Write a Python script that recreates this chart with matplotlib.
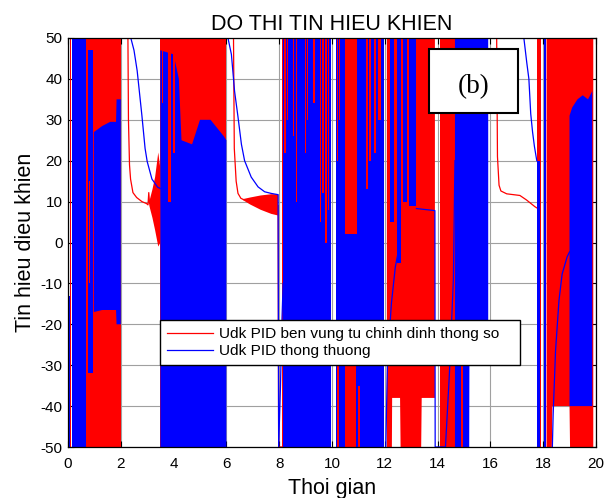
import numpy as np
import matplotlib
matplotlib.use("Agg")
import matplotlib.pyplot as plt
from matplotlib.patches import Rectangle

plt.rcParams['font.family'] = ['Liberation Sans', 'DejaVu Sans']
plt.rcParams['axes.unicode_minus'] = False

nan = np.nan

# ---- red signal (Udk PID ben vung tu chinh dinh thong so) ----
# dense oscillation bands: time, lower envelope, upper envelope (nan = break)
red_band_t = [0.09, 0.12, nan,
              0.67, 2.0, nan,
              3.08, 3.2, 3.3, 3.42, 3.5, nan,
              3.5, 6.0, nan,
              6.62, 6.9, 7.3, 7.7, 7.96, nan,
              8.12, 9.95, nan,
              10.15, 11.97, nan,
              12.08, 12.27, 12.28, 12.58, 12.6, 13.38, 13.4, 13.9, nan,
              14.1, 14.7, nan,
              17.77, 17.93, nan,
              18.13, 18.33, 18.35, 19.0, 19.02, 19.9]
red_band_lo = [-50, -50, nan,
               -50, -50, nan,
               9, 6, 3, -1, 0, nan,
               -50, -50, nan,
               10.4, 9.3, 8.0, 7.0, 6.6, nan,
               -50, -50, nan,
               -50, -50, nan,
               -50, -50, -38, -38, -50, -50, -38, -38, nan,
               -50, -50, nan,
               -50, -50, nan,
               -50, -50, -40, -40, -50, -50]
red_band_hi = [50, 50, nan,
               50, 50, nan,
               10, 13, 16, 22, 18, nan,
               50, 50, nan,
               10.6, 11.0, 11.5, 11.8, 11.8, nan,
               50, 50, nan,
               50, 50, nan,
               50, 50, 50, 50, 50, 50, 50, 50, nan,
               50, 50, nan,
               50, 50, nan,
               50, 50, 50, 50, 50, 50]

# smooth parts of the red signal
red_line_t = [2.0, 2.27, 2.29, 2.33, 2.37, 2.46, 2.6, 2.8, 2.98, 3.03, 3.06, 3.09, nan,
              6.0, 6.27, 6.3, 6.37, 6.44, 6.55, 6.65, nan,
              7.96, 7.98, 8.12, nan,
              15.9, 16.24, 16.27, 16.33, 16.4, 16.62, 17.12, 17.37, 17.69, 17.8]
red_line_v = [50, 50, 30, 19, 15.5, 12.2, 11, 10, 9.5, 9.2, 12.2, 9.5, nan,
              50, 50, 23, 15, 12, 10.8, 10.5, nan,
              9, -50, -50, nan,
              50, 50, 21, 14, 12.6, 11.9, 11.5, 10.4, 8.75, 8.3]

# ---- blue signal (Udk PID thong thuong) ----
blue_band_t = [0.02, 0.08, nan,
               0.16, 0.67, nan,
               0.74, 0.96, nan,
               0.98, 1.3, 1.6, 1.82, 1.84, 2.0, nan,
               3.5, 4.0, 4.2, 4.3, 4.7, 5.0, 5.4, 5.9, 6.0, nan,
               8.15, 9.95, nan,
               10.15, 11.97, nan,
               12.2, 12.35, nan,
               12.45, 12.6, nan,
               12.7, 12.85, nan,
               12.92, 13.2, nan,
               14.66, 15.2, 15.21, 15.92, nan,
               17.78, 17.9, nan,
               18.03, 18.09, nan,
               19.0, 19.1, 19.3, 19.5, 19.7, 19.86]
blue_band_lo = [-50, -50, nan,
                -50, -50, nan,
                -32, -32, nan,
                -17, -16.5, -16.5, -16.5, -20, -20, nan,
                -50, -50, -50, -50, -50, -50, -50, -50, -50, nan,
                -50, -50, nan,
                -50, -50, nan,
                5, 5, nan,
                -5, -5, nan,
                10, 10, nan,
                9, 9, nan,
                -50, -50, -25, -25, nan,
                -50, -50, nan,
                -50, -50, nan,
                -40, -40, -40, -40, -40, -40]
blue_band_hi = [-13, -13, nan,
                50, 50, nan,
                47, 47, nan,
                27, 28.5, 29.5, 29.5, 35, 35, nan,
                47, 46, 40, 25, 24, 30, 30, 26, 25, nan,
                50, 50, nan,
                50, 50, nan,
                50, 50, nan,
                50, 50, nan,
                50, 50, nan,
                50, 50, nan,
                50, 50, 50, 50, nan,
                20, 20, nan,
                50, 50, nan,
                31, 33, 35, 36, 35, 37]

blue_line_t = [2.0, 2.38, 2.5, 2.62, 2.8, 2.92, 3.0, 3.18, 3.4, 3.5, nan,
               6.0, 6.06, 6.19, 6.31, 6.44, 6.57, 6.69, 6.94, 7.2, 7.45, 7.7, 7.96,
               7.98, 8.05, 8.1, 8.15, nan,
               12.04, 12.1, 12.25, 12.4, 12.55, nan,
               13.2, 13.9, 13.91, 14.3, 14.45, 14.6, 14.66, nan,
               15.9, 17.27, 17.38, 17.46, 17.53, 17.6, 17.67, 17.76, nan,
               18.35, 18.38, 18.47, 18.6, 18.72, 18.91, 19.0]
blue_line_v = [50, 50, 47, 42, 31, 23, 19.8, 15.5, 13.5, 13.2, nan,
               50, 50, 46, 37, 30.7, 24, 20, 16, 13.6, 12.4, 12, 11.7,
               -50, -35, -20, -10, nan,
               -50, -30, -15, -6, -1, nan,
               8.3, 7.8, -50, -50, -32, -9, 20, nan,
               50, 50, 44, 40, 31.5, 27, 23.5, 20, nan,
               -50, -42, -26.5, -14.2, -7.7, -3.5, -2.3]

# red bursts visible through the blue bands: start, end, low, high
red_stripe_t0 = [0.68, 0.8, 3.56, 3.77, 3.98,
                 8.2, 8.3, 8.52, 8.63, 8.96, 9.05, 9.28, 9.53, 9.62, 9.75, 9.85,
                 10.18, 10.28, 10.5, 11.3, 11.42, 11.6, 11.75,
                 10.5, 10.2, 11.0, 14.88]
red_stripe_t1 = [0.74, 0.84, 3.6, 3.9, 4.05,
                 8.26, 8.35, 8.58, 8.68, 9.02, 9.08, 9.34, 9.58, 9.68, 9.8, 9.9,
                 10.24, 10.32, 10.95, 11.36, 11.48, 11.68, 11.85,
                 10.9, 10.26, 11.05, 14.98]
red_stripe_lo = [20, -10, 34, 10, 22,
                 22, 30, 26, 10, 22, 30, 34, 5, 12, 0, 8,
                 20, 30, 2, 13, 20, 22, 30,
                 -50, -50, -50, -50]
red_stripe_hi = [50, 15, 50, 50, 50,
                 50, 50, 50, 50, 50, 50, 50, 50, 50, 50, 50,
                 50, 50, 50, 50, 50, 50, 50,
                 -30, -30, -35, -20]

RED = '#ff0000'
BLUE = '#0000ff'

fig = plt.figure(figsize=(6.16, 4.98), dpi=100)
ax = fig.add_axes([0.1104, 0.1024, 0.857, 0.8213])

rt = np.array(red_band_t, dtype=float)
ax.fill_between(rt, np.array(red_band_lo, dtype=float), np.array(red_band_hi, dtype=float),
                color=RED, lw=0, zorder=2)
red_ln, = ax.plot(red_line_t, red_line_v, color=RED, lw=0.9, zorder=2.5,
                  label='Udk PID ben vung tu chinh dinh thong so')

bt = np.array(blue_band_t, dtype=float)
ax.fill_between(bt, np.array(blue_band_lo, dtype=float), np.array(blue_band_hi, dtype=float),
                color=BLUE, lw=0, zorder=3)
blue_ln, = ax.plot(blue_line_t, blue_line_v, color=BLUE, lw=0.9, zorder=3.5,
                   label='Udk PID thong thuong')

w = np.array(red_stripe_t1) - np.array(red_stripe_t0)
h = np.array(red_stripe_hi) - np.array(red_stripe_lo)
ax.bar(red_stripe_t0, h, width=w, bottom=red_stripe_lo, align='edge',
       color=RED, lw=0, zorder=4)

ax.set_xlim(0, 20)
ax.set_ylim(-50, 50)
ax.set_xticks(range(0, 21, 2))
ax.set_yticks(range(-50, 51, 10))
ax.tick_params(direction='in', top=True, right=True, length=4, width=0.8,
               labelsize=11)
ax.tick_params(axis='x', pad=7)
ax.tick_params(axis='y', pad=4)
ax.grid(True, color='#a0a0a0', lw=0.8)
ax.set_axisbelow(True)
for s in ax.spines.values():
    s.set_linewidth(0.9)
    s.set_zorder(6)

ax.set_title('DO THI TIN HIEU KHIEN', fontsize=15.5, pad=6)
ax.set_xlabel('Thoi gian', fontsize=15.5, labelpad=5)
ax.set_ylabel('Tin hieu dieu khien', fontsize=15.5, labelpad=3)

leg = ax.legend(handles=[red_ln, blue_ln], loc='lower left',
                bbox_to_anchor=(0.174, 0.2, 0.682, 0.115), mode='expand',
                borderaxespad=0, fontsize=11.1, handlelength=3.0,
                handletextpad=0.4, fancybox=False, framealpha=1,
                edgecolor='black', borderpad=0.45, labelspacing=0.2)
leg.get_frame().set_linewidth(1.0)
leg.set_zorder(10)

ax.add_patch(Rectangle((0.684, 0.817), 0.168, 0.156, transform=ax.transAxes,
                       facecolor='white', edgecolor='black', lw=1.5, zorder=9))
ax.text(0.768, 0.882, '(b)', transform=ax.transAxes, ha='center', va='center',
        fontsize=19.5, family='Liberation Serif', zorder=10)

fig.savefig('out.png', dpi=100)
